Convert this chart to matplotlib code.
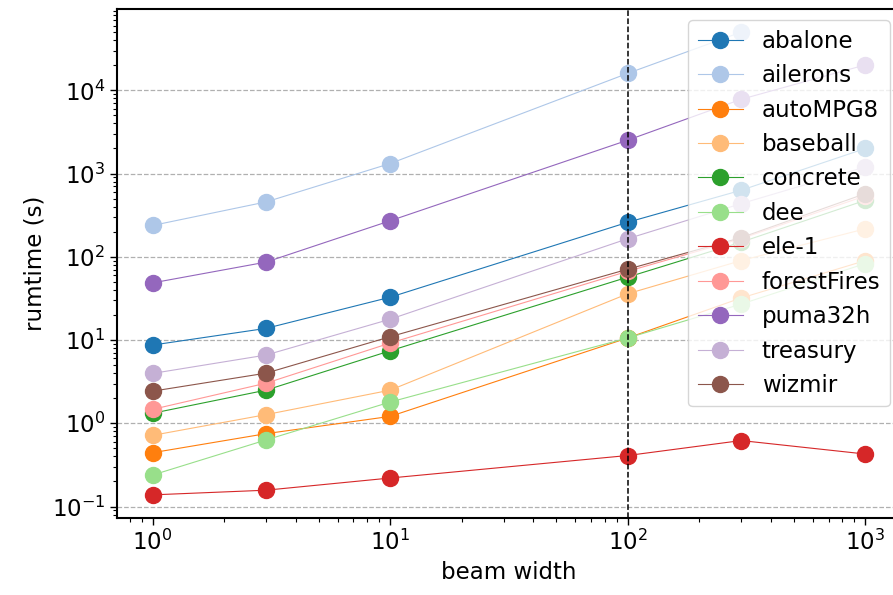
import numpy as np
import matplotlib
matplotlib.use("Agg")
import matplotlib.pyplot as plt

beam = [1, 3, 10, 100, 300, 1000]

datasets = ["abalone", "ailerons", "autoMPG8", "baseball", "concrete", "dee",
            "ele-1", "forestFires", "puma32h", "treasury", "wizmir"]

abalone = [8.7, 13.8, 32.7, 260, 630, 2000]
ailerons = [238, 456, 1320, 16000, 50000]
autoMPG8 = [0.443, 0.75, 1.21, 10.6, 32, 90]
baseball = [0.716, 1.27, 2.5, 36, 90, 217]
concrete = [1.32, 2.5, 7.43, 57, 150, 477]
dee = [0.239, 0.63, 1.8, 10.6, 27, 83]
ele1 = [0.138, 0.157, 0.22, 0.41, 0.62, 0.427]
forestFires = [1.47, 3.03, 9.2, 67, 165, 540]
puma32h = [48.6, 86.3, 271, 2520, 7800, 20200]
treasury = [3.97, 6.6, 17.8, 165, 435, 1200]
wizmir = [2.43, 4.0, 10.96, 71, 170, 574]

runtimes = [abalone, ailerons, autoMPG8, baseball, concrete, dee,
            ele1, forestFires, puma32h, treasury, wizmir]

plt.rcParams['font.size'] = 16.5

fig = plt.figure(figsize=(8.93, 5.95), dpi=100)
ax = fig.add_axes([117 / 893, 77 / 595, 784 / 893, 509 / 595])

colors = plt.get_cmap('tab20').colors
for i, (name, rt) in enumerate(zip(datasets, runtimes)):
    ax.plot(beam[:len(rt)], rt, marker='o', markersize=11.5, lw=0.8,
            color=colors[i], label=name)

ax.set_xscale('log')
ax.set_yscale('log')
ax.axvline(100, color='black', ls='--', lw=1.1, zorder=5)
ax.yaxis.grid(True, which='major', ls='--', color='#b0b0b0', lw=0.9)

ax.set_xlabel("beam width")
ax.set_ylabel("rumtime (s)")

for s in ax.spines.values():
    s.set_linewidth(1.5)
ax.tick_params(which='major', length=5, width=1)
ax.tick_params(which='minor', length=3, width=0.8, labelbottom=False, labelleft=False)

ax.legend(loc='upper right', fontsize=16.5)

plt.savefig("out.png", dpi=100)
